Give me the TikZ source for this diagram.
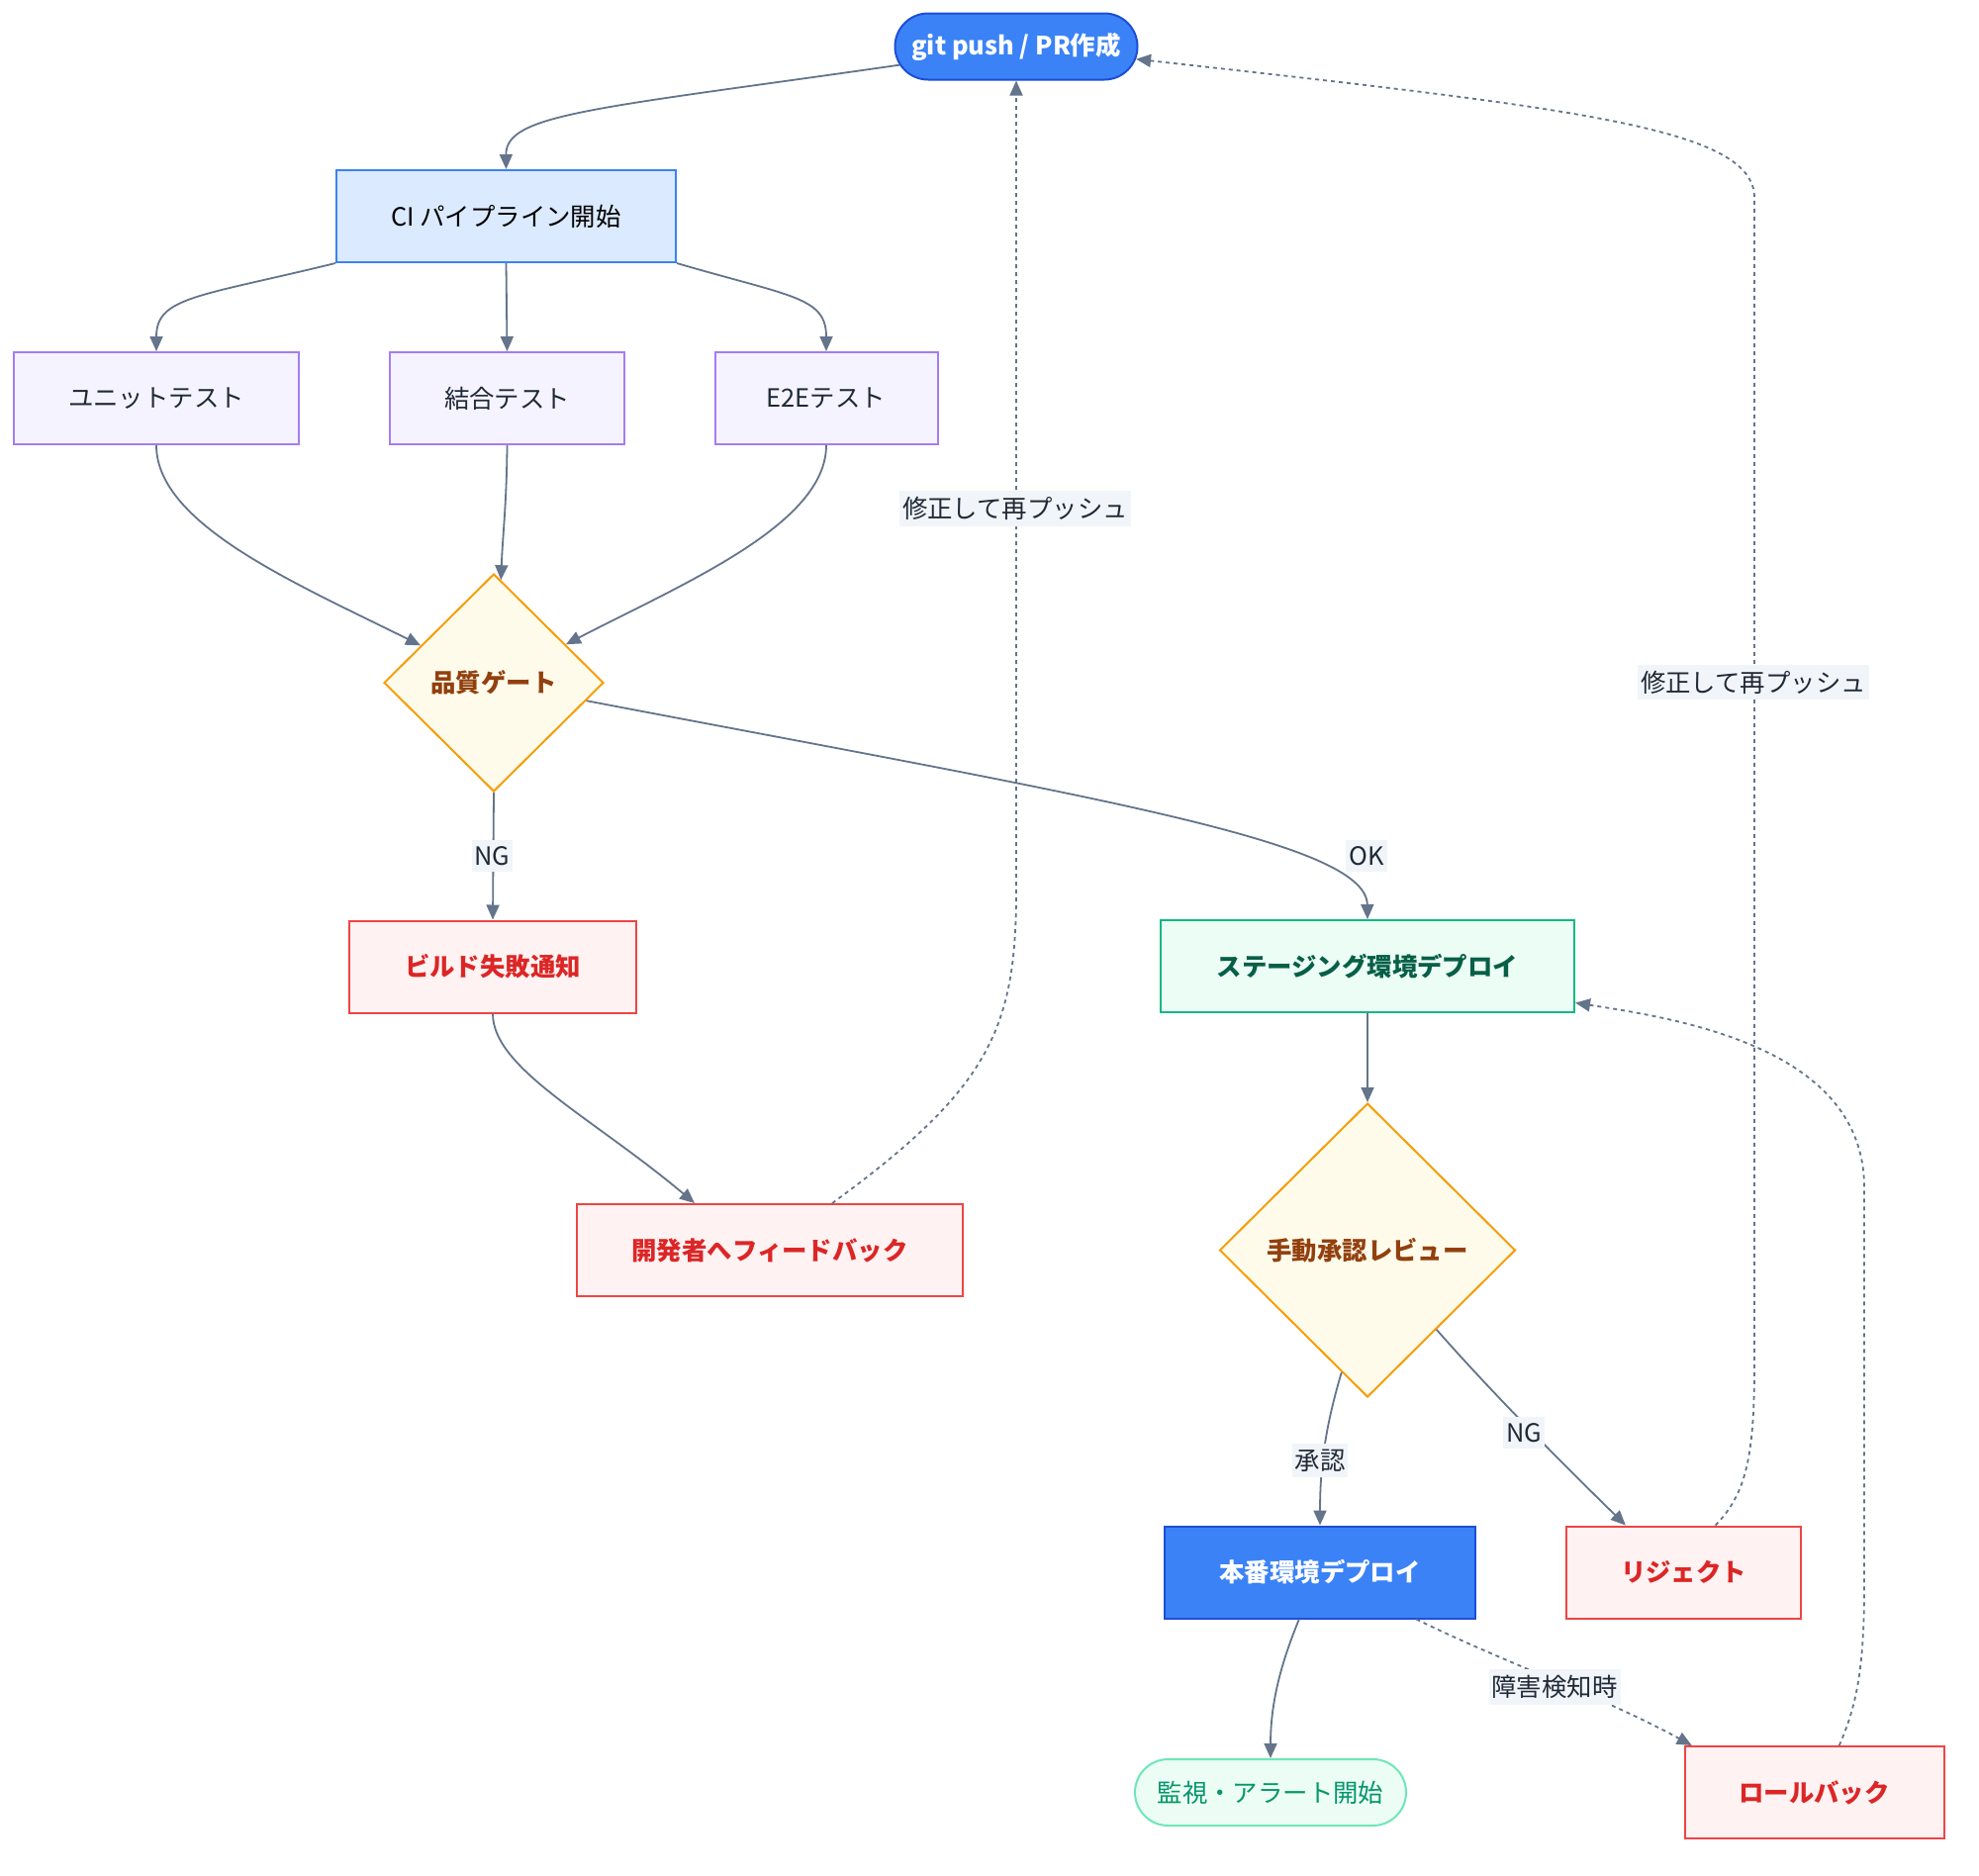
\documentclass[tikz,border=0pt]{standalone}
\usepackage{fontspec}
\setmainfont{Noto Sans CJK JP}
\usetikzlibrary{shapes.geometric,shapes.misc,arrows.meta}
\definecolor{cBlue}{HTML}{3B82F6}
\definecolor{cBlueD}{HTML}{1D4ED8}
\definecolor{cCIfill}{HTML}{DBEAFE}
\definecolor{cPurF}{HTML}{F5F3FF}
\definecolor{cPurD}{HTML}{A47CF3}
\definecolor{cYelF}{HTML}{FFFBEB}
\definecolor{cYelD}{HTML}{F59E0B}
\definecolor{cBrown}{HTML}{92400E}
\definecolor{cRedF}{HTML}{FEF2F2}
\definecolor{cRedD}{HTML}{EF4444}
\definecolor{cRedT}{HTML}{DC2626}
\definecolor{cGrnF}{HTML}{ECFDF5}
\definecolor{cGrnD}{HTML}{10B981}
\definecolor{cGrnT}{HTML}{065F46}
\definecolor{cMonD}{HTML}{6EE7B7}
\definecolor{cMonT}{HTML}{059669}
\definecolor{cEdge}{HTML}{64748B}
\definecolor{cLblF}{HTML}{F1F5F9}
\definecolor{cTxt}{HTML}{1F2937}
\tikzset{
  base/.style={inner sep=0pt, line width=1pt, align=center, minimum height=46.5pt,
    font=\fontsize{12.7}{15}\selectfont},
  boldbase/.style={base, font=\fontsize{12.7}{15}\selectfont\bfseries},
  startnode/.style={boldbase, rounded rectangle, fill=cBlue, draw=cBlueD, text=white},
  cibox/.style={base, rectangle, fill=cCIfill, draw=cBlue, text=black},
  testbox/.style={base, rectangle, fill=cPurF, draw=cPurD, text=cTxt},
  gatebox/.style={boldbase, diamond, fill=cYelF, draw=cYelD, text=cBrown},
  redbox/.style={boldbase, rectangle, fill=cRedF, draw=cRedD, text=cRedT},
  stgbox/.style={boldbase, rectangle, fill=cGrnF, draw=cGrnD, text=cGrnT},
  prodbox/.style={boldbase, rectangle, fill=cBlue, draw=cBlueD, text=white},
  monnode/.style={base, rounded rectangle, fill=cGrnF, draw=cMonD, text=cMonT},
  lbl/.style={fill=cLblF, text=cTxt, inner xsep=1.5pt, inner ysep=3pt,
    font=\fontsize{12.7}{15}\selectfont},
  edge/.style={draw=cEdge, line width=0.9pt, -{Triangle[length=7.5pt,width=6.5pt]}},
  dotedge/.style={edge, dash pattern=on 2pt off 2pt},
}
\begin{document}
\begin{tikzpicture}[x=0.5pt,y=-0.5pt]
\fill[white] (0,0) rectangle (2000,1895);
\useasboundingbox (0,0) rectangle (2000,1895);

\node[startnode, minimum width=122.5pt, minimum height=33.5pt] (git) at (1027,47) {git push / PR作成};
\node[cibox, minimum width=171.5pt] (ci) at (511.5,218.5) {CI パイプライン開始};
\node[testbox, minimum width=144pt] (unit) at (158,402.5) {ユニットテスト};
\node[testbox, minimum width=118.5pt] (ket) at (512.5,402.5) {結合テスト};
\node[testbox, minimum width=112.5pt] (e2e) at (835,402.5) {E2Eテスト};
\node[gatebox, minimum width=111pt, minimum height=110pt] (gate) at (499,690) {品質ゲート};
\node[redbox, minimum width=145pt] (build) at (498,977) {ビルド失敗通知};
\node[redbox, minimum width=195pt] (fb) at (778,1263.5) {開発者へフィードバック};
\node[stgbox, minimum width=209pt] (stg) at (1382,976.5) {ステージング環境デプロイ};
\node[gatebox, minimum width=149.5pt, minimum height=148.5pt] (review) at (1382,1263.5) {手動承認レビュー};
\node[prodbox, minimum width=157pt] (prod) at (1334,1589) {本番環境デプロイ};
\node[redbox, minimum width=118.5pt] (rej) at (1701.5,1589) {リジェクト};
\node[monnode, minimum width=137pt, minimum height=33.5pt] (mon) at (1284,1811.5) {監視・アラート開始};
\node[redbox, minimum width=131pt] (rb) at (1833.5,1811.5) {ロールバック};

\draw[edge] (git.189) .. controls (600,110) and (511,115) .. (ci.north);
\draw[edge] (ci.south west) .. controls (200,300) and (158,300) .. (unit.north);
\draw[edge] (ci.south) -- (ket.north);
\draw[edge] (ci.south east) .. controls (800,300) and (835,300) .. (e2e.north);
\draw[edge] (unit.south) .. controls (158,530) and (300,590) .. (gate.153);
\draw[edge] (ket.south) .. controls (512,510) and (508,540) .. (gate.86);
\draw[edge] (e2e.south) .. controls (835,530) and (690,590) .. (gate.28);
\draw[edge] (gate.south) -- (build.north);
\draw[edge] (gate.-11) .. controls (1100,805) and (1381,850) .. (stg.north);
\draw[edge] (build.south) .. controls (498,1080) and (600,1130) .. (fb.148);
\draw[dotedge] (fb.37) .. controls (1000,1100) and (1027,1040) .. (1027,900) -- (git.south);
\draw[edge] (stg.south) -- (review.north);
\draw[edge] (review.-102.5) .. controls (1340,1440) and (1334,1480) .. (prod.north);
\draw[edge] (review.-49) .. controls (1510,1410) and (1580,1480) .. (rej.141);
\draw[dotedge] (rej.56) .. controls (1765,1510) and (1773,1470) .. (1773,1380) -- (1773,200) .. controls (1773,130) and (1600,110) .. (git.-6);
\draw[edge] (prod.-114) .. controls (1295,1680) and (1284,1720) .. (mon.north);
\draw[dotedge] (prod.-26) .. controls (1520,1680) and (1620,1715) .. (rb.159);
\draw[dotedge] (rb.62) .. controls (1878,1720) and (1884,1680) .. (1884,1600) -- (1884,1200) .. controls (1884,1060) and (1700,1030) .. (stg.-10.6);

\node[lbl] (l1) at (1026,514) {修正して再プッシュ};
\node[lbl] (l2) at (1772,689.5) {修正して再プッシュ};
\node[lbl] (l3) at (497.5,865) {NG};
\node[lbl] (l4) at (1381,865) {OK};
\node[lbl] (l5) at (1334,1476) {承認};
\node[lbl] (l6) at (1540,1448) {NG};
\node[lbl] (l7) at (1571,1705) {障害検知時};
\end{tikzpicture}
\end{document}
